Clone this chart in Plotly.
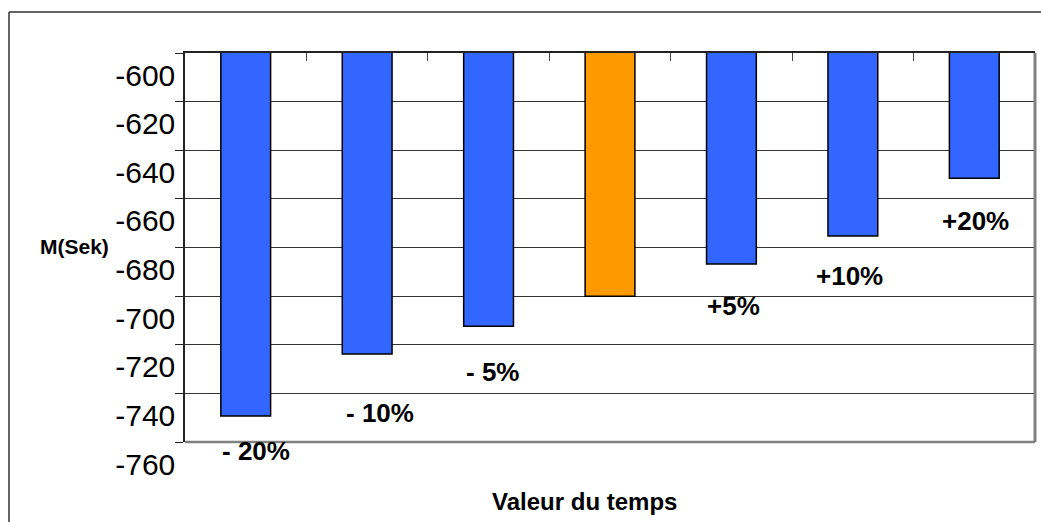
import plotly.graph_objects as go

# ---- data ----
categories = ["- 20%", "- 10%", "- 5%", "0%", "+5%", "+10%", "+20%"]
values = [-749.3, -723.8, -712.4, -700.0, -686.8, -675.3, -651.5]
bar_labels = ["- 20%", "- 10%", "- 5%", "", "+5%", "+10%", "+20%"]
y_ticks = [-760, -740, -720, -700, -680, -660, -640, -620, -600]

# ---- styling ----
colors = ["#3366FF", "#3366FF", "#3366FF", "#FF9900", "#3366FF", "#3366FF", "#3366FF"]
label_dx = [10, 13, 4, 0, 2, -3, 1]
label_dy = [-35, -59, -46, 0, -42, -40, -43]
FONT = "Arial, 'Liberation Sans', sans-serif"

W, H = 1041, 522
L, R, T, B = 185, 6, 53, 80
pw, ph = W - L - R, H - T - B

def px_x(x):
    return (x - L) / pw

def px_y(y):
    return (H - B - y) / ph

fig = go.Figure()
fig.add_trace(go.Bar(
    x=categories, y=values,
    marker=dict(color=colors, line=dict(color="#000000", width=1.5)),
    hoverinfo="x+y",
))

annotations = []
for c, v, t, dx, dy in zip(categories, values, bar_labels, label_dx, label_dy):
    if not t:
        continue
    annotations.append(dict(
        x=c, y=v, xref="x", yref="y", text=t, showarrow=False,
        xanchor="center", yanchor="middle", xshift=dx, yshift=dy,
        font=dict(family=FONT, size=26, color="#000000", weight="bold"),
    ))

annotations.append(dict(
    x=px_x(74.5), y=px_y(246.5), xref="paper", yref="paper", text="<b>M(Sek)</b>",
    showarrow=False, xanchor="center", yanchor="middle",
    font=dict(family=FONT, size=21, color="#000000"),
))
annotations.append(dict(
    x=px_x(584.5), y=px_y(501.5), xref="paper", yref="paper", text="<b>Valeur du temps</b>",
    showarrow=False, xanchor="center", yanchor="middle",
    font=dict(family=FONT, size=24, color="#000000"),
))

shapes = [
    # outer frame (top and left edges)
    dict(type="line", xref="paper", yref="paper", x0=px_x(9), x1=px_x(1060),
         y0=px_y(12), y1=px_y(12), line=dict(color="#333333", width=1.5), layer="above"),
    dict(type="line", xref="paper", yref="paper", x0=px_x(9), x1=px_x(9),
         y0=px_y(12), y1=px_y(540), line=dict(color="#333333", width=1.5), layer="above"),
    # gray right and bottom plot borders
    dict(type="line", xref="paper", yref="paper", x0=1, x1=1, y0=0, y1=1,
         line=dict(color="#808080", width=3), layer="above"),
    dict(type="line", xref="paper", yref="paper", x0=0, x1=1, y0=0, y1=0,
         line=dict(color="#808080", width=2.5), layer="above"),
]

fig.update_layout(
    width=W, height=H,
    margin=dict(l=L, r=R, t=T, b=B, pad=0, autoexpand=False),
    paper_bgcolor="white", plot_bgcolor="white",
    bargap=0.59,
    showlegend=False,
    annotations=annotations,
    shapes=shapes,
    font=dict(family=FONT, color="#000000"),
    xaxis=dict(
        side="top", showline=True, linecolor="#222222", linewidth=1.5,
        ticks="inside", tickson="boundaries", ticklen=8, tickcolor="#444444", tickwidth=1,
        showticklabels=False, showgrid=False, zeroline=False, fixedrange=True,
        automargin=False,
    ),
    yaxis=dict(
        range=[-760, -600], tickvals=y_ticks, ticktext=[str(v) for v in y_ticks],
        showline=True, linecolor="#222222", linewidth=1.5, mirror=False,
        ticks="outside", ticklen=8, tickcolor="#222222", tickwidth=1,
        showgrid=True, gridcolor="#333333", gridwidth=1, zeroline=False,
        tickfont=dict(family=FONT, size=30, color="#000000"),
        ticklabelshift=22, ticklabelstandoff=-6, fixedrange=True,
        automargin=False,
    ),
)

fig.write_html(
    "out.html",
    config={"displayModeBar": False},
    post_script="document.body.style.margin='0';document.body.style.overflow='hidden';",
)
